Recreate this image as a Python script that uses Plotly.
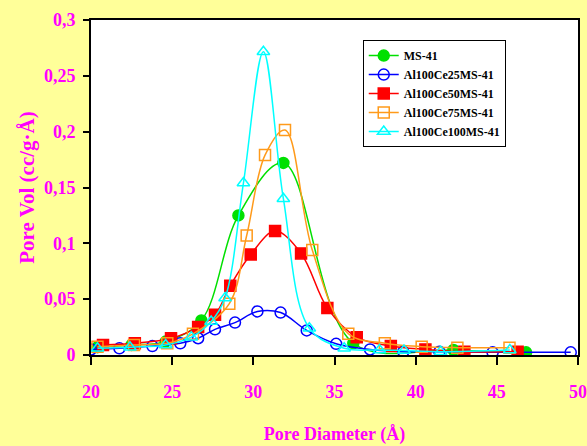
import plotly.graph_objects as go

# ---- data ----
ms41_x = [20.4, 22.5, 24.6, 26.8, 29.08, 31.85, 36.16, 42.33, 46.8]
ms41_y = [0.007, 0.009, 0.012, 0.031, 0.125, 0.172, 0.0105, 0.0045, 0.0024]

ce25_x = [20.0, 21.75, 23.78, 25.5, 26.6, 27.64, 28.87, 30.25, 31.68, 33.29, 35.1, 37.19, 39.24, 41.46, 44.74, 49.55]
ce25_y = [0.005, 0.006, 0.008, 0.0105, 0.015, 0.023, 0.029, 0.039, 0.038, 0.022, 0.010, 0.005, 0.003, 0.003, 0.0024, 0.0024]

ce50_x = [20.74, 22.7, 24.93, 26.6, 27.64, 28.58, 29.84, 31.34, 32.94, 34.56, 36.37, 38.47, 40.6, 43.0, 46.28]
ce50_y = [0.009, 0.0105, 0.015, 0.025, 0.036, 0.062, 0.090, 0.111, 0.091, 0.042, 0.016, 0.008, 0.005, 0.003, 0.003]

ce75_x = [20.4, 22.65, 24.7, 26.28, 28.52, 29.59, 30.72, 31.95, 33.63, 35.85, 38.1, 40.37, 42.57, 45.78]
ce75_y = [0.0075, 0.009, 0.0105, 0.019, 0.046, 0.107, 0.179, 0.2015, 0.094, 0.019, 0.0105, 0.0075, 0.0066, 0.0066]

ce100_x = [20.4, 22.4, 24.6, 26.18, 27.4, 28.26, 29.39, 30.62, 31.85, 33.45, 35.6, 37.77, 39.28, 41.54, 45.8]
ce100_y = [0.006, 0.007, 0.009, 0.016, 0.030, 0.051, 0.154, 0.2716, 0.140, 0.024, 0.006, 0.0045, 0.004, 0.003, 0.0045]

series_names = ["MS-41", "Al100Ce25MS-41", "Al100Ce50MS-41", "Al100Ce75MS-41", "Al100Ce100MS-41"]

y_tick_vals = [0, 0.05, 0.1, 0.15, 0.2, 0.25, 0.3]
y_tick_text = ["0", "0,05", "0,1", "0,15", "0,2", "0,25", "0,3"]
x_tick_vals = [20, 25, 30, 35, 40, 45, 50]

# ---- styles ----
styles = [
    dict(color="#00E000", symbol="circle", size=11),
    dict(color="#0000FF", symbol="circle-open", size=11),
    dict(color="#FF0000", symbol="square", size=11),
    dict(color="#FF9A1A", symbol="square-open", size=11),
    dict(color="#00FFFF", symbol="triangle-up-open", size=11),
]
data = [(ms41_x, ms41_y), (ce25_x, ce25_y), (ce50_x, ce50_y), (ce75_x, ce75_y), (ce100_x, ce100_y)]

fig = go.Figure()
for (xs, ys), name, st in zip(data, series_names, styles):
    fig.add_trace(go.Scatter(
        x=xs, y=ys, name=name, mode="lines+markers",
        line=dict(color=st["color"], width=1.5, shape="spline", smoothing=1.0),
        marker=dict(color=st["color"], symbol=st["symbol"], size=st["size"],
                    line=dict(color=st["color"], width=1.5)),
    ))

font_fam = "Liberation Serif"
mag = "#FF00FF"

fig.update_layout(
    width=587, height=446,
    margin=dict(l=91, r=9, t=20, b=91),
    paper_bgcolor="#FFFF99",
    plot_bgcolor="#FFFFFF",
    showlegend=True,
    legend=dict(
        x=0.558, y=0.94, xanchor="left", yanchor="top",
        bgcolor="#FFFFFF", bordercolor="#000000", borderwidth=1,
        font=dict(family=font_fam, size=12, color="#000000", weight="bold"),
        tracegroupgap=0, itemwidth=30,
    ),
    xaxis=dict(
        range=[20, 50], tickvals=x_tick_vals, automargin=False,
        ticks="outside", ticklen=8, tickwidth=1.5, tickcolor="#000000",
        showline=True, linecolor="#000000", linewidth=2, mirror=True,
        showgrid=False, zeroline=False,
        ticklabelstandoff=11, ticklabeloverflow="allow",
        tickfont=dict(family=font_fam, size=18, color=mag, weight="bold"),
        title=dict(text="Pore Diameter (Å)", standoff=27,
                   font=dict(family=font_fam, size=18, color=mag, weight="bold")),
    ),
    yaxis=dict(
        range=[0, 0.3], tickvals=y_tick_vals, ticktext=y_tick_text, automargin=False,
        ticks="outside", ticklen=6, tickwidth=1.5, tickcolor="#000000",
        showline=True, linecolor="#000000", linewidth=2, mirror=True,
        showgrid=False, zeroline=False,
        ticklabelstandoff=4, ticklabeloverflow="allow",
        tickfont=dict(family=font_fam, size=18, color=mag, weight="bold"),
        title=dict(text="Pore Vol (cc/g·Å)", standoff=4,
                   font=dict(family=font_fam, size=21, color=mag, weight="bold")),
    ),
)

fig.write_html(
    "out.html",
    config={"displayModeBar": False},
    post_script="document.body.style.margin='0';document.body.style.background='#FFFF99';",
)
